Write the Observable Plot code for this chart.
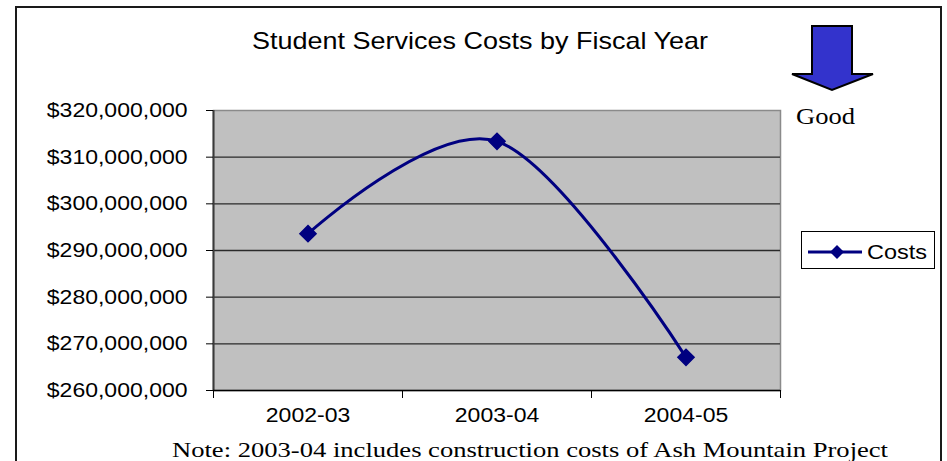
<!DOCTYPE html>
<html>
<head>
<meta charset="utf-8">
<script src="https://cdn.jsdelivr.net/npm/d3@7"></script>
<script src="https://cdn.jsdelivr.net/npm/@observablehq/plot@0.6"></script>
<style>
  html, body { margin: 0; padding: 0; background: #fff; }
  #wrap { position: relative; width: 947px; height: 461px; overflow: hidden; }
  #chart, #decor { position: absolute; left: 0; top: 0; }
  #frame { position: absolute; left: 15px; top: 6px; width: 927px; height: 480px; border: 2px solid #1a1a1a; box-sizing: border-box; }
</style>
</head>
<body>
<div id="wrap">
  <div id="frame"></div>
  <div id="chart"></div>
  <svg id="decor" width="947" height="461" xmlns="http://www.w3.org/2000/svg"></svg>
</div>
<script>
// ---- data ----
const years = ["2002-03", "2003-04", "2004-05"];
const costs = [293.6e6, 313.4e6, 267.1e6];
const yTicks = [260e6, 270e6, 280e6, 290e6, 300e6, 310e6, 320e6];
const gridTicks = [270e6, 280e6, 290e6, 300e6, 310e6];
const bandEdges = [-0.5, 0.5, 1.5, 2.5];
const categoryIdx = [0, 1, 2];
const titleText = "Student Services Costs by Fiscal Year";
const noteText = "Note: 2003-04 includes construction costs of Ash Mountain Project";
const seriesName = "Costs";
const goodText = "Good";

const rows = years.map((y, i) => ({i, year: y, cost: costs[i]}));
const navy = "#000080";

const chart = Plot.plot({
  width: 947,
  height: 461,
  marginLeft: 213,
  marginRight: 167,
  marginTop: 110,
  marginBottom: 71,
  style: {fontFamily: "'Liberation Sans', Arial, sans-serif", fontSize: "20px", color: "#000", background: "transparent"},
  x: {domain: [-0.5, 2.5], axis: null},
  y: {domain: [260e6, 320e6], axis: null},
  marks: [
    Plot.frame({fill: "#c0c0c0", stroke: "#8a8a8a", strokeWidth: 1.5}),
    Plot.gridY(gridTicks, {stroke: "#2a2a2a", strokeOpacity: 1, strokeWidth: 1.3}),
    Plot.ruleX([-0.5], {stroke: "#3a3a3a", strokeWidth: 2}),
    Plot.ruleY([260e6], {stroke: "#000", strokeWidth: 1.3}),
    Plot.axisY({ticks: yTicks, tickSize: 7, tickPadding: 19, tickFormat: d3.format("$,"), label: null, stroke: "#000"}),
    Plot.axisX({ticks: bandEdges, tickSize: 8, tickFormat: () => "", label: null, stroke: "#000"}),
    Plot.axisX({ticks: categoryIdx, tickSize: 0, tickPadding: 17, tickFormat: i => years[i], label: null}),
    Plot.line(rows, {x: "i", y: "cost", curve: "cardinal", stroke: navy, strokeWidth: 3}),
    Plot.dot(rows, {x: "i", y: "cost", symbol: "diamond2", r: 7.3, fill: navy, stroke: navy})
  ]
});
document.getElementById("chart").appendChild(chart);

// widen axis text to match the reference's horizontally stretched lettering
function stretch(el, k) {
  const len = el.getComputedTextLength();
  el.setAttribute("textLength", (len * k).toFixed(1));
  el.setAttribute("lengthAdjust", "spacingAndGlyphs");
}
chart.querySelectorAll("text").forEach(t => { if (t.textContent.trim()) stretch(t, 1.15); });

// ---- decorations: title, arrow, legend, note ----
const ns = "http://www.w3.org/2000/svg";
const decor = document.getElementById("decor");
function add(tag, attrs, text) {
  const e = document.createElementNS(ns, tag);
  for (const k in attrs) e.setAttribute(k, attrs[k]);
  if (text != null) e.textContent = text;
  decor.appendChild(e);
  return e;
}
add("text", {x: 480, y: 49, "text-anchor": "middle", "font-family": "'Liberation Sans', Arial, sans-serif", "font-size": 24, textLength: 456, lengthAdjust: "spacingAndGlyphs"}, titleText);
add("polygon", {points: "812,26 852,26 852,74 873,74 832,90 792,74 812,74", fill: "#3333cc", stroke: "#000", "stroke-width": 2, "stroke-linejoin": "miter"});
add("text", {x: 796, y: 124, "font-family": "'Liberation Serif', 'Times New Roman', serif", "font-size": 23.5, textLength: 59, lengthAdjust: "spacingAndGlyphs"}, goodText);
add("rect", {x: 801.5, y: 231.5, width: 133, height: 37, fill: "#fff", stroke: "#000", "stroke-width": 1});
add("line", {x1: 808, x2: 862, y1: 252, y2: 252, stroke: navy, "stroke-width": 3});
add("polygon", {points: "837,245 844,252 837,259 830,252", fill: navy});
add("text", {x: 867, y: 259, "font-family": "'Liberation Sans', Arial, sans-serif", "font-size": 21, textLength: 60, lengthAdjust: "spacingAndGlyphs"}, seriesName);
add("text", {x: 530, y: 457, "text-anchor": "middle", "font-family": "'Liberation Serif', 'Times New Roman', serif", "font-size": 22, textLength: 716, lengthAdjust: "spacingAndGlyphs"}, noteText);
</script>
</body>
</html>
